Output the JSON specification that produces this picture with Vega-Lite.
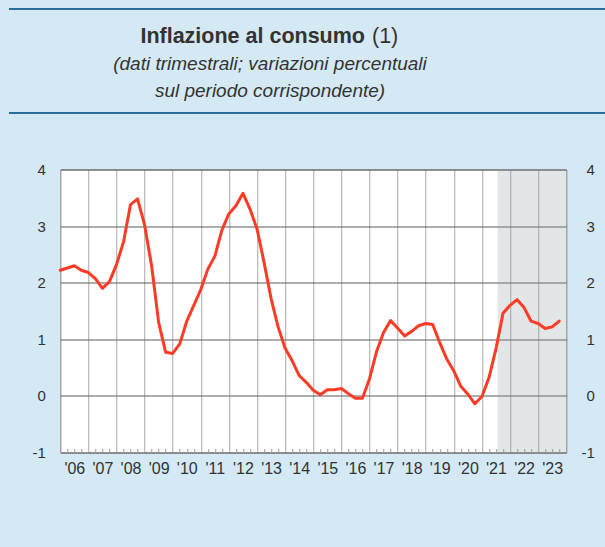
{
  "$schema": "https://vega.github.io/schema/vega-lite/v6.json",
  "background": "#d4e9f3",
  "padding": {"left": 8, "top": 8, "right": 0, "bottom": 70},
  "config": {"font": "Liberation Sans", "text": {"font": "Liberation Sans"}},
  "spacing": 47.5,
  "center": true,
  "datasets": {
    "intestazione": [
      {"ruolo": "titolo", "linea": 1, "testo": "Inflazione al consumo"},
      {"ruolo": "nota", "linea": 1, "testo": "(1)"},
      {"ruolo": "sottotitolo", "linea": 2, "testo": "(dati trimestrali; variazioni percentuali"},
      {"ruolo": "sottotitolo", "linea": 3, "testo": "sul periodo corrispondente)"}
    ],
    "periodo": [{"inizio": 2021.56, "fine": 2024}],
    "inflazione": [
      {"t": 2006.0, "v": 2.22}, {"t": 2006.25, "v": 2.26}, {"t": 2006.5, "v": 2.30}, {"t": 2006.75, "v": 2.22},
      {"t": 2007.0, "v": 2.18}, {"t": 2007.25, "v": 2.07}, {"t": 2007.5, "v": 1.90}, {"t": 2007.75, "v": 2.02},
      {"t": 2008.0, "v": 2.32}, {"t": 2008.25, "v": 2.72}, {"t": 2008.5, "v": 3.38}, {"t": 2008.75, "v": 3.48},
      {"t": 2009.0, "v": 3.02}, {"t": 2009.25, "v": 2.30}, {"t": 2009.5, "v": 1.30}, {"t": 2009.75, "v": 0.77},
      {"t": 2010.0, "v": 0.75}, {"t": 2010.25, "v": 0.92}, {"t": 2010.5, "v": 1.32}, {"t": 2010.75, "v": 1.60},
      {"t": 2011.0, "v": 1.88}, {"t": 2011.25, "v": 2.24}, {"t": 2011.5, "v": 2.47}, {"t": 2011.75, "v": 2.93},
      {"t": 2012.0, "v": 3.22}, {"t": 2012.25, "v": 3.36}, {"t": 2012.5, "v": 3.58}, {"t": 2012.75, "v": 3.30},
      {"t": 2013.0, "v": 2.95}, {"t": 2013.25, "v": 2.36}, {"t": 2013.5, "v": 1.72}, {"t": 2013.75, "v": 1.22},
      {"t": 2014.0, "v": 0.84}, {"t": 2014.25, "v": 0.62}, {"t": 2014.5, "v": 0.36}, {"t": 2014.75, "v": 0.24},
      {"t": 2015.0, "v": 0.10}, {"t": 2015.25, "v": 0.02}, {"t": 2015.5, "v": 0.11}, {"t": 2015.75, "v": 0.11},
      {"t": 2016.0, "v": 0.13}, {"t": 2016.25, "v": 0.04}, {"t": 2016.5, "v": -0.04}, {"t": 2016.75, "v": -0.04},
      {"t": 2017.0, "v": 0.30}, {"t": 2017.25, "v": 0.78}, {"t": 2017.5, "v": 1.12}, {"t": 2017.75, "v": 1.33},
      {"t": 2018.0, "v": 1.20}, {"t": 2018.25, "v": 1.06}, {"t": 2018.5, "v": 1.14}, {"t": 2018.75, "v": 1.24},
      {"t": 2019.0, "v": 1.28}, {"t": 2019.25, "v": 1.26}, {"t": 2019.5, "v": 0.94}, {"t": 2019.75, "v": 0.65},
      {"t": 2020.0, "v": 0.44}, {"t": 2020.25, "v": 0.17}, {"t": 2020.5, "v": 0.03}, {"t": 2020.75, "v": -0.14},
      {"t": 2021.0, "v": -0.01}, {"t": 2021.25, "v": 0.32}, {"t": 2021.5, "v": 0.83}, {"t": 2021.75, "v": 1.46},
      {"t": 2022.0, "v": 1.60}, {"t": 2022.25, "v": 1.70}, {"t": 2022.5, "v": 1.56}, {"t": 2022.75, "v": 1.32},
      {"t": 2023.0, "v": 1.28}, {"t": 2023.25, "v": 1.19}, {"t": 2023.5, "v": 1.22}, {"t": 2023.75, "v": 1.32}
    ]
  },
  "vconcat": [
    {
      "width": 636,
      "height": 104,
      "view": {"fill": null, "stroke": "#2b6b99", "strokeWidth": 2, "strokeDash": [636, 104, 636, 104]},
      "data": {"name": "intestazione"},
      "encoding": {
        "y": {"field": "linea", "type": "ordinal", "scale": {"type": "point", "range": [34, 88], "padding": 0}, "axis": null},
        "text": {"field": "testo", "type": "nominal"}
      },
      "layer": [
        {
          "transform": [{"filter": "datum.ruolo === 'titolo'"}],
          "mark": {"type": "text", "align": "right", "baseline": "alphabetic", "dx": 38, "fontSize": 21.5, "fontWeight": "bold", "color": "#333333"}
        },
        {
          "transform": [{"filter": "datum.ruolo === 'nota'"}],
          "mark": {"type": "text", "align": "left", "baseline": "alphabetic", "dx": 45, "fontSize": 21.5, "color": "#333333"}
        },
        {
          "transform": [{"filter": "datum.ruolo === 'sottotitolo'"}],
          "mark": {"type": "text", "align": "center", "baseline": "alphabetic", "dx": -57, "fontSize": 19, "fontStyle": "italic", "color": "#333333"}
        }
      ]
    },
    {
      "width": 506,
      "height": 283,
      "view": {"fill": "white", "stroke": "#8c8c8c", "strokeWidth": 1},
      "layer": [
        {
          "data": {"name": "periodo"},
          "mark": {"type": "rect", "fill": "#8a9a9a", "fillOpacity": 0.25},
          "encoding": {
            "x": {"field": "inizio", "type": "quantitative", "scale": {"domain": [2006, 2024], "nice": false, "zero": false}, "axis": null},
            "x2": {"field": "fine"},
            "y": {"datum": -1, "type": "quantitative", "scale": {"domain": [-1, 4], "nice": false, "zero": false},
              "axis": {"orient": "right", "values": [-1, 0, 1, 2, 3, 4], "labelExpr": "toString(datum.value)", "grid": false, "ticks": false, "domain": false, "labelAlign": "right", "labelPadding": 28, "labelFontSize": 15, "labelColor": "#333333", "title": null}},
            "y2": {"datum": 4}
          }
        },
        {
          "data": {"name": "inflazione"},
          "mark": {"type": "line", "color": "#ff3b26", "strokeWidth": 3, "strokeJoin": "round", "strokeCap": "round"},
          "encoding": {
            "x": {"field": "t", "type": "quantitative", "scale": {"domain": [2006, 2024], "nice": false, "zero": false},
              "axis": {
                "orient": "bottom",
                "title": null,
                "values": [2006, 2006.25, 2006.5, 2006.75, 2007, 2007.25, 2007.5, 2007.75, 2008, 2008.25, 2008.5, 2008.75, 2009, 2009.25, 2009.5, 2009.75, 2010, 2010.25, 2010.5, 2010.75, 2011, 2011.25, 2011.5, 2011.75, 2012, 2012.25, 2012.5, 2012.75, 2013, 2013.25, 2013.5, 2013.75, 2014, 2014.25, 2014.5, 2014.75, 2015, 2015.25, 2015.5, 2015.75, 2016, 2016.25, 2016.5, 2016.75, 2017, 2017.25, 2017.5, 2017.75, 2018, 2018.25, 2018.5, 2018.75, 2019, 2019.25, 2019.5, 2019.75, 2020, 2020.25, 2020.5, 2020.75, 2021, 2021.25, 2021.5, 2021.75, 2022, 2022.25, 2022.5, 2022.75, 2023, 2023.25, 2023.5, 2023.75, 2024],
                "labelExpr": "datum.value % 1 === 0.5 ? \"'\" + slice(toString(floor(datum.value)), 2) : ''",
                "labelOverlap": false,
                "labelFlush": false,
                "labelFontSize": 16,
                "labelColor": "#333333",
                "labelPadding": 12,
                "domain": false,
                "grid": true,
                "gridColor": "#a8a8a8",
                "gridWidth": 1,
                "gridOpacity": {"condition": {"test": "datum.value % 1 === 0", "value": 1}, "value": 0},
                "ticks": true,
                "tickColor": "#9a9a9a",
                "tickWidth": 1,
                "tickSize": -4,
                "tickOpacity": {"condition": {"test": "datum.value % 1 === 0", "value": 0}, "value": 1}
              }
            },
            "y": {"field": "v", "type": "quantitative", "scale": {"domain": [-1, 4], "nice": false, "zero": false},
              "axis": {"orient": "left", "values": [-1, 0, 1, 2, 3, 4], "labelExpr": "toString(datum.value)", "grid": true, "gridColor": "#5a5a5a", "gridWidth": 1, "ticks": false, "domain": false, "labelPadding": 15, "labelFontSize": 15, "labelColor": "#333333", "title": null}}
          }
        }
      ],
      "resolve": {"axis": {"x": "independent", "y": "independent"}}
    }
  ]
}
